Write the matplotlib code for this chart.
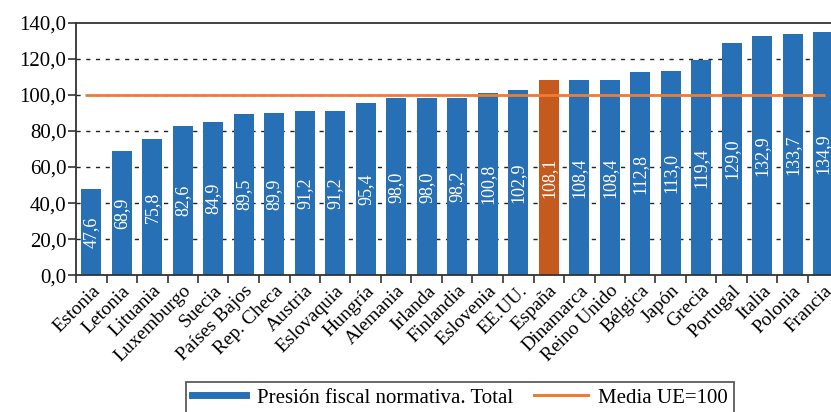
# -*- coding: utf-8 -*-
"""Presión fiscal normativa por país (Media UE = 100)."""
import numpy as np
import matplotlib.pyplot as plt
import matplotlib as mpl
from matplotlib.lines import Line2D
from matplotlib.ticker import FuncFormatter, FixedLocator

mpl.rcParams.update({
    'font.family': ['Liberation Serif', 'DejaVu Serif'],
    'font.size': 12,
})

paises = ['Estonia', 'Letonia', 'Lituania', 'Luxemburgo', 'Suecia', 'Países Bajos',
          'Rep. Checa', 'Austria', 'Eslovaquia', 'Hungría', 'Alemania', 'Irlanda',
          'Finlandia', 'Eslovenia', 'EE.UU.', 'España', 'Dinamarca', 'Reino Unido',
          'Bélgica', 'Japón', 'Grecia', 'Portugal', 'Italia', 'Polonia', 'Francia']
presion = [47.6, 68.9, 75.8, 82.6, 84.9, 89.5, 89.9, 91.2, 91.2, 95.4, 98.0, 98.0,
           98.2, 100.8, 102.9, 108.1, 108.4, 108.4, 112.8, 113.0, 119.4, 129.0,
           132.9, 133.7, 134.9]
media_ue = 100
destacado = 'España'

blue, orange_bar, orange_line = '#2870b6', '#c55a1f', '#ee7d31'

fig = plt.figure(figsize=(8.31, 4.12), dpi=100)
ax = fig.add_axes([76/831, 1 - 275.3/412, 762.5/831, (275.3 - 22.7)/412])

x = np.arange(len(paises))
colors = [orange_bar if p == destacado else blue for p in paises]
ax.bar(x, presion, 0.65, color=colors, zorder=2)
for i, v in enumerate(presion):
    ax.text(i, v / 2, f'{v:.1f}'.replace('.', ','), rotation=90, ha='center',
            va='center', color='white', fontsize=13, zorder=3)

ax.hlines(media_ue, -0.2, len(paises) - 0.95, color=orange_line, lw=2, zorder=4)

ax.set_xlim(-0.5, len(paises) - 0.5)
ax.set_ylim(0, 140)
ax.set_yticks(np.arange(0, 141, 20))
ax.yaxis.set_major_formatter(FuncFormatter(lambda v, _: f'{v:.1f}'.replace('.', ',')))
for y in range(20, 140, 20):
    ax.axhline(y, color='#222', lw=1, ls=(0, (3, 4)), zorder=1)

ax.set_xticks(x)
ax.set_xticklabels(paises, rotation=45, ha='right', rotation_mode='anchor', fontsize=14)
ax.tick_params(axis='x', length=0, pad=5)
ax.xaxis.set_minor_locator(FixedLocator(np.arange(-0.5, len(paises), 1)))
ax.tick_params(axis='x', which='minor', length=6, width=1.2, color='#333', direction='out')
ax.tick_params(axis='y', length=6, width=1.2, color='#333', labelsize=15, pad=1)

for s in ['top', 'left', 'bottom', 'right']:
    ax.spines[s].set_color('#333')
    ax.spines[s].set_linewidth(1.3)

handles = [Line2D([], [], color=blue, lw=5),
           Line2D([], [], color=orange_line, lw=2.2)]
leg = fig.legend(handles, ['Presión fiscal normativa. Total', 'Media UE=100'],
                 loc='lower center', bbox_to_anchor=(460/831, -0.03), ncol=2,
                 fontsize=15, frameon=True, fancybox=False, edgecolor='#222',
                 handlelength=2.6, columnspacing=1.0, borderpad=0.3, handletextpad=0.5)
leg.get_frame().set_linewidth(1.2)

fig.savefig('out.png', dpi=100)
